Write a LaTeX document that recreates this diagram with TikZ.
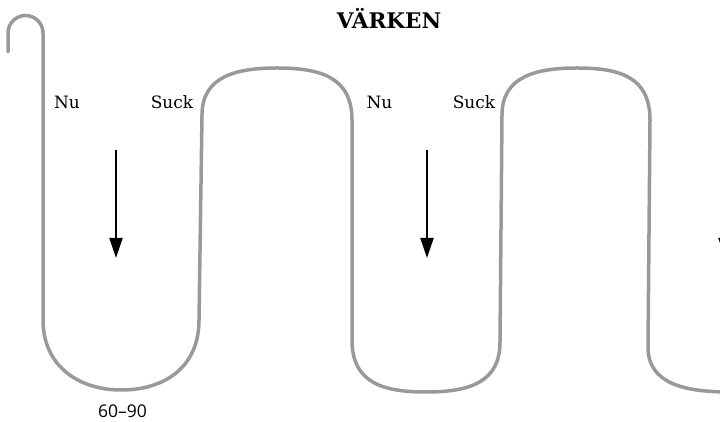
\documentclass[tikz,border=0pt]{standalone}
\usepackage{fontspec}
\setmainfont{DejaVu Serif}
\newfontfamily\numfont{Open Sans}
\usetikzlibrary{arrows.meta}
\definecolor{wavegray}{HTML}{999999}

\begin{document}
\begin{tikzpicture}[x=1pt, y=1pt, >=Stealth,
    wave/.style={draw=wavegray, line width=3.5pt, line cap=round, line join=round},
    push/.style={draw=black, line width=2pt, -{Triangle[width=13pt,length=20pt]}},
    lbl/.style={anchor=base, inner sep=0pt, font=\fontsize{17}{20}\selectfont}]
    \useasboundingbox (0,0) rectangle (720,422);
    \clip (0,0) rectangle (720,422);

    \node[anchor=base, inner sep=0pt, font=\fontsize{21.5}{25}\selectfont\bfseries] (title) at (389,393) {VÄRKEN};

    % the contraction curve
    \draw[wave] (8,370) -- (8,389) arc (180:0:17.5) -- (43,102)
        .. controls (43,55) and (80,32) .. (121,32)
        .. controls (165,32) and (199,55) .. (199,102) -- (202,307)
        .. controls (202,345) and (235,354) .. (277,354)
        .. controls (320,354) and (352,345) .. (352,302) -- (352,82)
        .. controls (352,38) and (385,30) .. (426,30)
        .. controls (470,30) and (500,40) .. (500,80) -- (502,307)
        .. controls (502,345) and (535,354) .. (577,354)
        .. controls (620,354) and (650,345) .. (650,302) -- (648,75)
        .. controls (648,38) and (685,30) .. (730,30);

    \node[lbl] (nu1) at (67,313) {Nu};
    \node[lbl] (suck1) at (172,313) {Suck};
    \node[lbl] (nu2) at (379.5,313) {Nu};
    \node[lbl] (suck2) at (474,313) {Suck};
    \node[anchor=base, inner sep=0pt, font=\numfont\fontsize{17.5}{20}\selectfont] (span) at (122.5,4.3) {60–90};

    % arrows
    \foreach \x [count=\i] in {116,427,725} {
        \coordinate (top\i) at (\x,272);
        \coordinate (bot\i) at (\x,164);
        \draw[push] (top\i) -- (bot\i);
    }
\end{tikzpicture}
\end{document}
